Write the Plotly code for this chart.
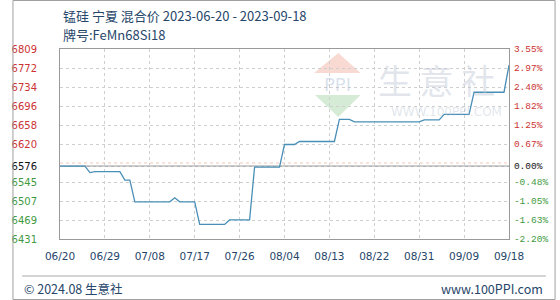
import plotly.graph_objects as go
import pandas as pd

# ---- data ----
start_date = "2023-06-20"
end_date = "2023-09-18"
dates = pd.date_range(start_date, end_date, freq="D")
prices = [
    6576, 6576, 6576, 6576, 6576, 6576, 6563, 6565, 6565, 6565,
    6565, 6565, 6565, 6548, 6548, 6505, 6505, 6505, 6505, 6505,
    6505, 6505, 6505, 6513, 6505, 6505, 6505, 6505, 6460, 6460,
    6460, 6460, 6460, 6460, 6469, 6469, 6469, 6469, 6469, 6574,
    6574, 6574, 6574, 6574, 6574, 6619, 6619, 6619, 6625, 6625,
    6625, 6625, 6625, 6625, 6625, 6625, 6669, 6669, 6669, 6664,
    6664, 6664, 6664, 6664, 6664, 6664, 6664, 6664, 6664, 6664,
    6664, 6664, 6664, 6668, 6668, 6668, 6668, 6679, 6679, 6679,
    6679, 6679, 6679, 6723, 6723, 6723, 6723, 6723, 6723, 6723,
    6777,
]
base_price = 6576
y_min, y_max = 6431, 6809
y_tick_vals = [6431, 6468.8, 6506.6, 6544.4, 6576, 6620, 6657.8, 6695.6, 6733.4, 6771.2, 6809]
y_tick_text = ["6431", "6469", "6507", "6545", "6576", "6620", "6658", "6696", "6734", "6772", "6809"]
pct_tick_text = ["-2.20%", "-1.63%", "-1.05%", "-0.48%", "0.00%", "0.67%", "1.25%", "1.82%", "2.40%", "2.97%", "3.55%"]
x_tick_dates = pd.date_range(start_date, end_date, freq="9D")
x_tick_text = [d.strftime("%m/%d") for d in x_tick_dates]
title_line1 = "锰硅 宁夏 混合价 2023-06-20 - 2023-09-18"
title_line2 = "牌号:FeMn68Si18"
footer_left = "© 2024.08 生意社"
footer_right = "www.100PPI.com"

# ---- geometry helpers ----
W, H = 560, 300
L, R, T, B = 49, 512, 49, 239
def px(x):
    return (x - L) / (R - L)
def py(y):
    return (B - y) / (B - T)

RED = "#cc3333"
GREEN = "#3f9a3f"
BLACK = "#111111"
NAVY = "#26466a"

def colored(labels, vals):
    out = []
    for lab, v in zip(labels, vals):
        if abs(v - base_price) < 1e-6:
            c = BLACK
        elif v > base_price:
            c = RED
        else:
            c = GREEN
        out.append(f"<span style='color:{c}'>{lab}</span>")
    return out

fig = go.Figure()
fig.add_trace(go.Scatter(x=dates, y=prices, mode="lines",
                         line=dict(color="#4a8fb8", width=1.3),
                         showlegend=False, hoverinfo="x+y"))
fig.add_trace(go.Scatter(x=dates, y=prices, mode="lines", yaxis="y2",
                         line=dict(color="rgba(0,0,0,0)", width=0),
                         showlegend=False, hoverinfo="skip"))

shapes = []
# base line (solid)
shapes.append(dict(type="line", xref="paper", yref="y", x0=0, x1=1,
                   y0=base_price, y1=base_price, line=dict(color="#9a9a9a", width=1.2), layer="below"))
# the evenly spaced gridline just above the base (faint orange)
shapes.append(dict(type="line", xref="paper", yref="y", x0=0, x1=1,
                   y0=6582.2, y1=6582.2, line=dict(color="#f2c7b5", width=1, dash="dot"), layer="below"))
# outer border
shapes.append(dict(type="rect", xref="paper", yref="paper",
                   x0=px(0.5), x1=px(559.5), y0=py(299.5), y1=py(0.5),
                   line=dict(color="#a0a0a0", width=1)))
# footer separator
shapes.append(dict(type="line", xref="paper", yref="paper",
                   x0=px(10), x1=px(550), y0=py(276), y1=py(276),
                   line=dict(color="#a8a8a8", width=1)))
# watermark logo: roof, and inverted green triangle
def path(points):
    s = "M " + " L ".join(f"{px(a):.4f},{py(b):.4f}" for a, b in points) + " Z"
    return s
shapes.append(dict(type="path", xref="paper", yref="paper",
                   path=path([(311, 73), (336, 53), (359, 73)]),
                   fillcolor="rgba(235,150,130,0.35)", line=dict(width=0), layer="below"))
shapes.append(dict(type="path", xref="paper", yref="paper",
                   path=path([(312, 95), (359, 95), (336, 117)]),
                   fillcolor="rgba(120,190,120,0.3)", line=dict(width=0), layer="below"))

annotations = [
    dict(text=title_line1, xref="paper", yref="paper", x=px(50), y=py(16), xanchor="left", yanchor="middle",
         showarrow=False, font=dict(family="Noto Sans CJK SC", size=13, color=NAVY)),
    dict(text=title_line2, xref="paper", yref="paper", x=px(50), y=py(34), xanchor="left", yanchor="middle",
         showarrow=False, font=dict(family="Noto Sans CJK SC", size=13, color=NAVY)),
    dict(text=footer_left, xref="paper", yref="paper", x=px(10), y=py(288), xanchor="left", yanchor="middle",
         showarrow=False, font=dict(family="Noto Sans CJK SC", size=12.5, color=NAVY)),
    dict(text=footer_right, xref="paper", yref="paper", x=px(549), y=py(288), xanchor="right", yanchor="middle",
         showarrow=False, font=dict(family="Noto Sans CJK SC", size=12.5, color=NAVY)),
    # watermark
    dict(text="PPI", xref="paper", yref="paper", x=px(335), y=py(84), xanchor="center", yanchor="middle",
         showarrow=False, font=dict(family="DejaVu Sans", size=18, color="rgba(150,170,200,0.35)")),
    dict(text="生 意 社", xref="paper", yref="paper", x=px(437), y=py(80), xanchor="center", yanchor="middle",
         showarrow=False, font=dict(family="Noto Sans CJK SC", size=34, color="rgba(190,200,212,0.45)")),
    dict(text="WWW.100PPI.COM", xref="paper", yref="paper", x=px(448), y=py(112), xanchor="center", yanchor="middle",
         showarrow=False, font=dict(family="DejaVu Sans", size=12, color="rgba(190,200,212,0.45)")),
]

fig.update_layout(
    width=W, height=H,
    margin=dict(l=L, r=W - R, t=T, b=H - B),
    paper_bgcolor="white", plot_bgcolor="white",
    showlegend=False,
    shapes=shapes, annotations=annotations,
    xaxis=dict(type="date", range=[start_date, end_date],
               tickvals=list(x_tick_dates), ticktext=x_tick_text,
               showgrid=True, gridcolor="#cfcfcf", griddash="dot", gridwidth=1,
               showline=True, linecolor="#9a9a9a", mirror=True, linewidth=1,
               ticks="", zeroline=False, ticklabelstandoff=7,
               tickfont=dict(family="DejaVu Sans", size=10.5, color=NAVY)),
    yaxis=dict(range=[y_min, y_max], tickvals=y_tick_vals,
               ticktext=colored(y_tick_text, y_tick_vals),
               showgrid=True, gridcolor="#cfcfcf", griddash="dot", gridwidth=1,
               showline=True, linecolor="#9a9a9a", linewidth=1,
               ticks="", zeroline=False, ticklabelstandoff=20,
               tickfont=dict(family="DejaVu Sans", size=10)),
    yaxis2=dict(range=[y_min, y_max], overlaying="y", side="right",
                tickvals=y_tick_vals, ticktext=colored(pct_tick_text, y_tick_vals),
                showgrid=False, showline=True, linecolor="#9a9a9a", linewidth=1,
                ticks="", zeroline=False, ticklabelstandoff=2,
                tickfont=dict(family="Liberation Mono", size=9.5)),
)

fig.write_html("out.html")
